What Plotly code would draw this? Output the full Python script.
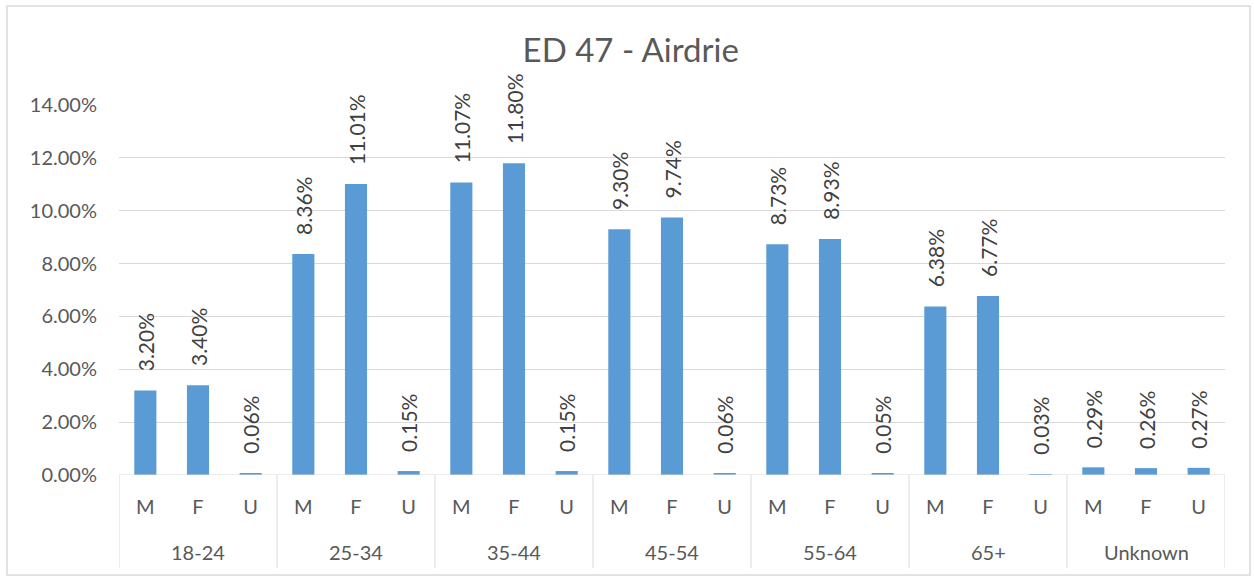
import plotly.graph_objects as go

title = "ED 47 - Airdrie"
groups = ["18-24", "25-34", "35-44", "45-54", "55-64", "65+", "Unknown"]
subs = ["M", "F", "U"]
male = [3.20, 8.36, 11.07, 9.30, 8.73, 6.38, 0.29]
female = [3.40, 11.01, 11.80, 9.74, 8.93, 6.77, 0.26]
unknown = [0.06, 0.15, 0.15, 0.06, 0.05, 0.03, 0.27]
y_ticks = [0, 2, 4, 6, 8, 10, 12, 14]

FONT = "Lato"
GREY = "#595959"
LINE = "#d9d9d9"
BAR = "#5B9BD5"

xs, ys, tt = [], [], []
for gi, g in enumerate(groups):
    for si, s in enumerate(subs):
        xs.append(gi * len(subs) + si)
        ys.append([male, female, unknown][si][gi])
        tt.append(s)

fig = go.Figure()
fig.add_trace(go.Bar(
    x=xs, y=ys, marker=dict(color=BAR, line=dict(width=0)), width=0.42,
    texttemplate="\u00a0\u00a0\u00a0%{y:.2f}%", textposition="outside", textangle=-90,
    textfont=dict(family=FONT, size=21, color="#404040"),
    constraintext="none", cliponaxis=False, hoverinfo="skip",
))

n = len(groups) * len(subs)
shapes = []
for gi in range(len(groups) + 1):
    xv = gi * len(subs) - 0.5
    shapes.append(dict(type="line", xref="x", yref="paper", x0=xv, x1=xv,
                       y0=0, y1=-0.252, line=dict(color=LINE, width=1)))
shapes.append(dict(type="line", xref="paper", yref="y", x0=0, x1=1, y0=0, y1=0,
                   line=dict(color=LINE, width=1)))
W, H = 1254, 579
L, R, T, B = 119, 29, 105, 104
pw, ph = W - L - R, H - T - B
def px(x): return (x - L) / pw
def py(y): return (H - B - y) / ph
shapes.append(dict(type="rect", xref="paper", yref="paper",
                   x0=px(7), x1=px(1250), y0=py(575), y1=py(6),
                   line=dict(color=LINE, width=1.5), fillcolor="rgba(0,0,0,0)", layer="below"))

annotations = []
for gi, g in enumerate(groups):
    annotations.append(dict(x=gi * len(subs) + 1, xref="x", y=0, yref="paper",
                            yshift=-77, text=g, showarrow=False, yanchor="middle",
                            font=dict(family=FONT, size=20, color=GREY)))

fig.update_layout(
    width=W, height=H,
    margin=dict(l=L, r=R, t=T, b=B, pad=0),
    paper_bgcolor="white", plot_bgcolor="white",
    title=dict(text=title, x=0.503, xref="container", xanchor="center",
               y=1 - 50 / H, yanchor="middle",
               font=dict(family=FONT, size=33, color=GREY)),
    showlegend=False,
    shapes=shapes, annotations=annotations,
    xaxis=dict(range=[-0.5, n - 0.5], tickvals=xs, ticktext=tt, showgrid=False,
               zeroline=False, showline=False, ticks="outside", ticklen=14,
               tickcolor="rgba(0,0,0,0)",
               tickfont=dict(family=FONT, size=20, color=GREY)),
    yaxis=dict(range=[0, 14], tickvals=y_ticks, ticktext=[f"{v:.2f}%" for v in y_ticks],
               showgrid=True, gridcolor=LINE, gridwidth=1, zeroline=False, showline=False,
               ticks="outside", ticklen=17, tickcolor="rgba(0,0,0,0)",
               tickfont=dict(family=FONT, size=20, color=GREY)),
)

fig.write_html("out.html", config={"displayModeBar": False},
               post_script="document.body.style.margin='0';document.body.style.padding='0';")
